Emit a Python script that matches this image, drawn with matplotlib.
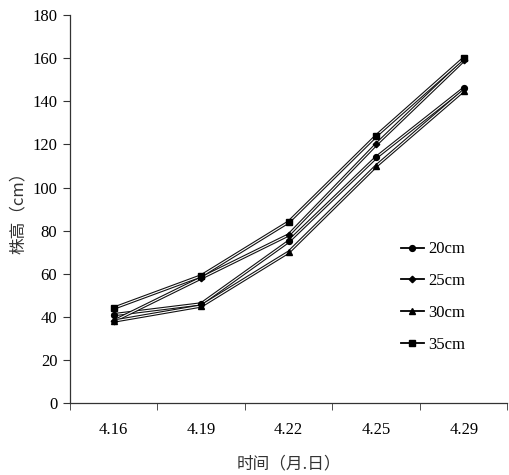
import numpy as np
import matplotlib.pyplot as plt
import matplotlib.patheffects as pe
from matplotlib.lines import Line2D

# Datos
fechas = ['4.16', '4.19', '4.22', '4.25', '4.29']
h_20 = [41, 46, 75, 114, 146]
h_25 = [38, 58, 78, 120, 159]
h_30 = [38, 45, 70, 110, 145]
h_35 = [44, 59, 84, 124, 160]
series = [('20cm', h_20, 'o', 4.2), ('25cm', h_25, 'D', 3.3),
          ('30cm', h_30, '^', 4.6), ('35cm', h_35, 's', 4.0)]

serif = ['Liberation Serif', 'DejaVu Serif']
cjk = ['Noto Sans CJK SC', 'DejaVu Sans']

fig = plt.figure(figsize=(5.1, 4.75), dpi=100)
ax = fig.add_axes([0.137, 0.1516, 0.858, 0.8164])

x = np.arange(len(fechas))
efecto = [pe.Stroke(linewidth=2.4, foreground='#111111'), pe.Normal()]
handles = []
for nombre, vals, m, ms in series:
    ax.plot(x, vals, color='white', linewidth=0.8, path_effects=efecto, zorder=2)
    ax.plot(x, vals, linestyle='none', marker=m, markersize=ms,
            color='black', zorder=3)
    handles.append(Line2D([], [], color='black', linewidth=1.3, marker=m,
                          markersize=ms, label=nombre))

ax.set_xlim(-0.5, len(fechas) - 0.5)
ax.set_ylim(0, 180)
ax.set_yticks(np.arange(0, 181, 20))
ax.set_xticks(x)
ax.set_xticklabels(fechas)
ax.set_xticks(np.arange(-0.5, len(fechas), 1), minor=True)
ax.tick_params(axis='x', which='major', length=0, pad=14)
ax.tick_params(axis='x', which='minor', length=5, direction='out', color='#333333')
ax.tick_params(axis='y', length=5, direction='out', color='#333333', pad=4)
for lab in ax.get_xticklabels() + ax.get_yticklabels():
    lab.set_family(serif)
    lab.set_fontsize(12)

for s in ['top', 'right']:
    ax.spines[s].set_visible(False)
for s in ['left', 'bottom']:
    ax.spines[s].set_color('#333333')
    ax.spines[s].set_linewidth(0.9)

ax.set_ylabel('株高（cm）', family=cjk, fontsize=12, color='#333333', labelpad=4)
ax.set_xlabel('时间（月.日）', family=cjk, fontsize=12, color='#333333', labelpad=12)

ax.legend(handles=handles, loc='center left', bbox_to_anchor=(0.722, 0.273),
          frameon=False, prop={'family': serif, 'size': 12}, handlelength=1.4,
          labelspacing=0.95, handletextpad=0.25)

fig.savefig('out.png', dpi=100)
